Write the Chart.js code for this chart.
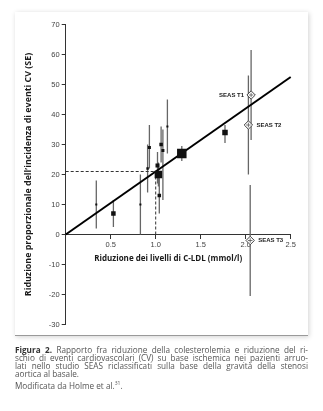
<!DOCTYPE html>
<html><head><meta charset="utf-8">
<script src="https://cdn.jsdelivr.net/npm/chart.js@4"></script>
<style>
html,body{margin:0;padding:0;background:#fff;}
body{width:323px;height:411px;position:relative;overflow:hidden;}
#panel{position:absolute;left:15px;top:12px;width:293px;height:324px;background:#fff;box-shadow:1px 1px 5px rgba(0,0,0,0.18);border-bottom:1px solid #9a9a9a;box-sizing:border-box;}
#wrap{position:absolute;left:0;top:0;width:323px;height:411px;}
#cap{position:absolute;left:15px;top:346px;width:293px;font-family:'Open Sans',sans-serif;font-size:8.2px;line-height:8.1px;color:#555;}
#cap .j{display:block;text-align:justify;text-align-last:justify;white-space:nowrap;}
#cap .l{display:block;text-align:left;white-space:nowrap;}
#cap .m{display:block;margin-top:4px;white-space:nowrap;}
#cap b{color:#333;font-weight:bold;}
</style></head>
<body>
<div id="panel"></div>
<div id="wrap"><canvas id="c"></canvas></div>
<div id="cap">
<span class="j"><b>Figura 2.</b> Rapporto fra riduzione della colesterolemia e riduzione del ri-</span>
<span class="j">schio di eventi cardiovascolari (CV) su base ischemica nei pazienti arruo-</span>
<span class="j">lati nello studio SEAS riclassificati sulla base della gravità della stenosi</span>
<span class="l">aortica al basale.</span>
<span class="m">Modificata da Holme et al.<sup style="font-size:5px;vertical-align:4px;line-height:0">31</sup>.</span>
</div>
<script>
// ---- data ----
const studyX    = [0.34, 0.53, 0.83, 0.91, 0.93, 1.02, 1.03, 1.04, 1.06, 1.08, 1.13, 1.29, 1.77];
const studyY    = [10,   7,    10,   22,   29,   23,   20,   13,   30,   28,   36,   27,   34];
const studyLow  = [2,    2.5,  0,    14,   22,   17,   16,   7,    24,   11.5, 27,   24.5, 30.5];
const studyHigh = [18,   11.5, 20,   30,   36.5, 27.5, 24,   20,   36,   35,   45,   29.5, 36.5];
const markerSide = [2, 4.5, 2, 2.5, 3, 4, 7.5, 3.5, 3.5, 3, 2, 9.5, 5.5];

const seasLabels = ['SEAS T1', 'SEAS T2', 'SEAS T3'];
const seasX    = [2.06, 2.03, 2.05];
const seasY    = [46.5, 36.5, -2];
const seasLow  = [31.5, 20, -20.5];
const seasHigh = [61.5, 53, 16.5];

const fitX = [0, 2.5];
const fitY = [0, 52.5];
const refX = [0, 1.0, 1.0];
const refY = [21, 21, 0];

const xTickValues = [0.5, 1.0, 1.5, 2.0, 2.5];
const yTickValues = [-30, -20, -10, 0, 10, 20, 30, 40, 50, 60, 70];

const yTitle = "Riduzione proporzionale dell\u2019incidenza di eventi CV (SE)";
const xTitle = "Riduzione dei livelli di C-LDL (mmol/l)";

// ---- helpers ----
const pts = (xs, ys) => xs.map((v, i) => ({x: v, y: ys[i]}));

const overlay = {
  id: 'overlay',
  beforeDatasetsDraw(chart) {
    const {ctx, scales: {x, y}} = chart;
    ctx.save();
    ctx.strokeStyle = '#666';
    ctx.lineWidth = 1.3;
    const bars = (xs, lo, hi) => xs.forEach((v, i) => {
      const px = x.getPixelForValue(v);
      ctx.beginPath();
      ctx.moveTo(px, y.getPixelForValue(lo[i]));
      ctx.lineTo(px, y.getPixelForValue(hi[i]));
      ctx.stroke();
    });
    bars(studyX, studyLow, studyHigh);
    bars(seasX, seasLow, seasHigh);
    ctx.restore();
  },
  afterDatasetsDraw(chart) {
    const {ctx, scales: {x, y}} = chart;
    ctx.save();
    ctx.fillStyle = '#222';
    ctx.font = 'bold 6px "Liberation Sans", Arial, sans-serif';
    ctx.textBaseline = 'middle';
    seasLabels.forEach((t, i) => {
      const px = x.getPixelForValue(seasX[i]);
      const py = y.getPixelForValue(seasY[i]);
      if (i === 0) { ctx.textAlign = 'right'; ctx.fillText(t, px - 7, py); }
      else { ctx.textAlign = 'left'; ctx.fillText(t, px + 8, py); }
    });
    ctx.font = 'bold 8px "Open Sans", sans-serif';
    ctx.textAlign = 'center';
    ctx.fillStyle = '#1a1a1a';
    ctx.fillText(xTitle, (x.left + x.right) / 2 - 10, y.getPixelForValue(0) + 24.5);
    ctx.restore();
  }
};

new Chart(document.getElementById('c'), {
  type: 'scatter',
  data: {
    datasets: [
      { type: 'line', data: pts(refX, refY), borderColor: '#333', borderWidth: 1, borderDash: [3, 2],
        pointRadius: 0, fill: false, order: 6, clip: false },
      { type: 'line', data: pts(fitX, fitY), borderColor: '#000', borderWidth: 2,
        pointRadius: 0, fill: false, order: 5, clip: false },
      { data: pts(studyX, studyY), pointStyle: 'rect', backgroundColor: '#111', borderColor: '#111',
        borderWidth: 0, pointRadius: markerSide.map(s => s / Math.SQRT2), order: 4 },
      { data: pts(seasX, seasY), pointStyle: 'rectRot', backgroundColor: '#fff', borderColor: '#444',
        borderWidth: 1, pointRadius: 4.2, order: 3, clip: false },
      { data: pts(seasX, seasY), pointStyle: 'cross', borderColor: '#555',
        borderWidth: 0.8, pointRadius: 2.3, order: 2, clip: false }
    ]
  },
  options: {
    responsive: true,
    maintainAspectRatio: false,
    animation: false,
    layout: { padding: { top: 24.5, right: 32.3, bottom: 86.5, left: 0 } },
    plugins: { legend: { display: false }, tooltip: { enabled: false }, title: { display: false } },
    scales: {
      x: {
        type: 'linear', position: { y: 0 }, min: 0, max: 2.5,
        afterBuildTicks: s => { s.ticks = xTickValues.map(v => ({value: v})); },
        ticks: { callback: v => Number(v).toFixed(1), color: '#444', padding: 2,
                 font: { family: '"Liberation Sans", Arial, sans-serif', size: 7.5 }, maxRotation: 0 },
        grid: { display: true, drawOnChartArea: false, drawTicks: true, tickLength: 4, color: '#333' },
        border: { display: true, color: '#333', width: 1 },
        title: { display: false }
      },
      y: {
        type: 'linear', position: 'left', min: -30, max: 70,
        afterBuildTicks: s => { s.ticks = yTickValues.map(v => ({value: v})); },
        afterFit: s => { s.width = 65.7; },
        ticks: { color: '#444', padding: 2,
                 font: { family: '"Liberation Sans", Arial, sans-serif', size: 7.5 } },
        grid: { display: true, drawOnChartArea: false, drawTicks: true, tickLength: 4, color: '#333' },
        border: { display: true, color: '#333', width: 1 },
        title: { display: true, text: yTitle, color: '#1a1a1a', padding: { top: 23.5, bottom: 0 },
                 font: { family: '"Open Sans", sans-serif', size: 8.9, weight: 'bold' } }
      }
    }
  },
  plugins: [overlay]
});
</script>
</body></html>
